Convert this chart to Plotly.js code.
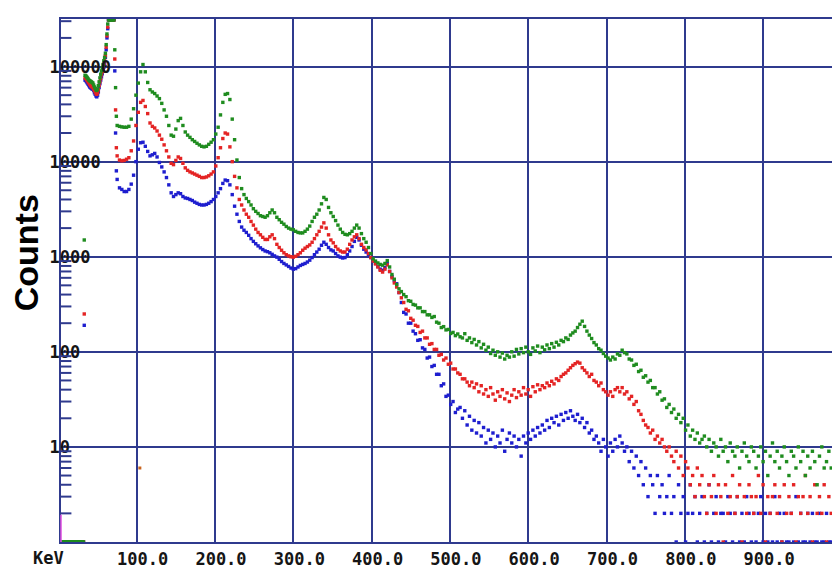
<!DOCTYPE html>
<html>
<head>
<meta charset="utf-8">
<script src="https://cdn.plot.ly/plotly-3.0.1.min.js"></script>
<style>html,body{margin:0;padding:0;background:#fff;}#chart{width:832px;height:572px;}</style>
</head>
<body>
<div id="chart"></div>
<script>
// ---- Energy calibration of the two channel blocks (keV) ----
const lowStartKeV = 3, lowStepKeV = 1;     // channels 3..74 keV
const mainStartKeV = 75, mainStepKeV = 3;  // channels 75..987 keV

// ---- Axis tick labels ----
const xTickVals = [100, 200, 300, 400, 500, 600, 700, 800, 900];
const xTickText = ['100.0', '200.0', '300.0', '400.0', '500.0', '600.0', '700.0', '800.0', '900.0'];
const yTickVals = [1, 10, 100, 1000, 10000, 100000];
const yTickText = ['1', '10', '100', '1000', '10000', '100000'];
const minorMantissas = [2, 3, 4, 5, 6, 7, 8, 9];

// ---- Counts, low-energy block (3..74 keV, 1 keV per channel) ----
const greenLow = [1,1,1,1,1,1,1,1,1,1, 1,1,1,1,1,1,1,1,1,1, 1,1,1,1,1,1,1,1,1,1, 1500,
  81000,80000,78000,76000,74000,72000,71000,70000,69000,68000,
  67000,64000,61000,59000,57000,56000,58000,63000,69000,76000,
  83000,90000,97000,105000,115000,125000,138000,170000,220000,280000,
  310000,310000,310000,310000,310000,310000,310000,310000,
  150000,60000,30000];
const redLow = [1,1,1,1,1,1,1,1,1,1, 1,1,1,1,1,1,1,1,1,1, 1,1,1,1,1,1,1,1,1,1, 250,
  76000,75000,73000,71000,69000,67000,65000,63000,62000,61000,
  60000,58000,56000,54000,52000,51000,53000,57000,63000,69000,
  75000,82000,88000,95000,105000,115000,130000,160000,210000,260000,
  310000,310000,310000,310000,310000,310000,310000,310000,
  120000,35000,14000];
const blueLow = [1,1,1,1,1,1,1,1,1,1, 1,1,1,1,1,1,1,1,1,1, 1,1,1,1,1,1,1,1,1,1, 190,
  72000,71000,69000,67000,65000,63000,61000,60000,59000,58000,
  58000,56000,53000,51000,49000,48000,50000,54000,60000,66000,
  72000,78000,84000,90000,98000,108000,125000,150000,200000,250000,
  310000,310000,310000,310000,310000,310000,310000,310000,
  90000,20000,8000];

// ---- Counts, main block (75..987 keV, 3 keV per channel) ----
const greenMain = [
  24000,23500,23200,23000,23000,23500,28000,36000,50000,67000,
  88000,105000,88000,68000,57000,54000,52000,49000,46000,41000,
  35000,30000,24000,19000,18500,22000,27000,28500,24000,20500,
  19000,18000,17000,16300,15600,15000,14500,14300,14500,15200,
  16000,17000,19500,23000,31000,42000,51000,52000,45000,28000,
  17000,10400,6800,5200,4500,4100,3800,3500,3200,3000,
  2850,2700,2650,2600,2700,2900,3100,2900,2600,2450,
  2300,2200,2080,2000,1950,1920,1850,1800,1780,1780,
  1850,1950,2100,2350,2600,2800,3100,3600,4200,4000,
  3300,2900,2650,2400,2150,1950,1800,1720,1700,1750,
  1850,2000,2150,2000,1750,1550,1420,1250,1080,950,
  900,860,830,815,850,910,780,650,580,510,
  460,430,400,380,345,340,315,310,290,290,
  265,265,245,245,230,235,205,200,180,184,
  170,172,156,160,148,154,144,140,155,132,
  140,125,135,118,128,110,120,104,112,96,
  104,92,100,88,97,84,92,88,100,90,
  106,95,108,98,112,100,94,110,102,115,
  98,112,105,118,108,122,112,126,118,132,
  128,140,135,150,158,165,180,195,210,185,
  165,150,138,125,118,108,104,96,90,86,
  82,88,84,95,92,104,98,95,84,82,
  72,74,62,64,54,56,48,50,42,42,
  36,38,31,32,26,28,23,25,20,22,
  18,20,15,17,13,15,12,14,11,12,
  13,10,12,9,11,10,8,12,9,10,
  7,11,9,8,10,6,9,11,8,7,
  10,9,6,8,10,7,9,5,8,11,
  7,9,6,8,10,7,5,9,8,6,
  10,7,9,5,8,6,9,7,4,8,
  10,6,7,9,6];
const redMain = [
  11500,10400,10200,10300,10600,11000,13000,16500,24000,33000,
  42000,44000,38000,32000,25500,23500,22600,21000,19000,17200,
  15000,13000,11200,9600,9300,10300,11200,10800,9600,8600,
  8100,7800,7600,7400,7200,7000,6800,6800,6900,7100,
  7400,7800,9000,11000,14000,17500,20000,19500,14300,10000,
  7000,5300,4000,3500,3100,2800,2600,2350,2150,1950,
  1800,1700,1600,1520,1520,1620,1700,1550,1350,1250,
  1170,1100,1050,1020,1000,990,1010,1050,1100,1170,
  1230,1280,1330,1420,1550,1700,1850,2050,2270,2000,
  1700,1500,1400,1280,1200,1150,1120,1120,1200,1350,
  1500,1620,1700,1550,1350,1250,1180,1080,980,900,
  840,780,720,690,740,820,700,600,530,480,
  420,370,330,280,270,225,215,190,185,160,
  165,140,140,120,122,106,106,92,94,82,
  86,74,76,66,66,60,58,52,52,48,
  44,48,42,46,38,44,36,40,34,42,
  36,31,38,34,40,32,37,30,35,40,
  33,38,35,42,36,40,34,43,38,45,
  40,44,42,47,44,49,46,52,50,55,
  58,60,64,68,72,75,78,76,68,64,
  60,55,58,50,48,44,47,40,38,35,
  38,34,40,42,38,42,36,38,32,34,
  28,30,24,22,19,17,16,14,15,12,
  13,11,12,10,9,10,8,7,9,6,
  8,5,7,6,4,5,3,6,4,5,
  3,2,4,3,5,2,4,3,1,4,
  2,3,5,2,3,4,1,3,2,4,
  3,2,3,5,2,4,1,3,2,3,
  4,2,3,1,4,2,3,2,4,1,
  3,2,3,5,2,3,1,4,2,3,
  2,4,1,3,2];
const blueMain = [
  6500,5300,5100,4850,4850,5100,5800,7200,10000,13500,
  15800,16000,14500,12800,11500,11800,12200,11200,9800,8800,
  7800,6800,5700,4700,4300,4500,4700,4600,4300,4150,
  4100,4000,3900,3750,3650,3550,3500,3500,3550,3650,
  3800,4000,4300,4700,5200,5900,6400,6300,5700,4500,
  3400,2800,2350,2050,1900,1800,1680,1550,1450,1370,
  1300,1240,1190,1150,1130,1100,1060,1020,990,940,
  890,850,820,790,760,740,750,780,810,830,
  850,880,920,980,1050,1120,1200,1320,1420,1350,
  1250,1180,1150,1080,1020,990,970,980,1050,1150,
  1280,1450,1600,1500,1320,1200,1120,1050,980,900,
  850,790,740,720,770,850,700,620,560,520,
  420,330,260,250,200,200,165,155,132,134,
  110,106,86,88,70,72,58,58,44,46,
  34,35,28,30,23,25,26,20,24,17,
  21,15,19,14,18,13,16,11,15,12,
  14,10,13,11,15,9,12,14,11,13,
  10,12,8,13,11,14,12,15,13,16,
  14,17,15,19,16,20,18,21,17,22,
  19,23,20,24,21,19,22,18,20,16,
  18,14,15,12,13,11,9,12,10,8,
  11,9,12,10,13,11,9,10,7,9,
  6,8,5,7,4,6,3,5,4,2,
  5,3,4,2,3,5,2,3,1,4,
  2,3,1,2,4,2,3,1,2,3,
  1,2,4,1,2,3,1,2,2,1,
  3,2,1,2,3,1,2,1,3,2,
  1,2,1,2,3,1,2,1,2,1,
  3,1,2,1,2,1,1,2,1,3,
  1,2,1,1,2,1,2,1,1,2,
  1,1,2,1,1];

// stray single reading
const strayKeV = [104];
const strayCounts = [6];

function channelEnergies(start, step, n) {
  const out = [];
  for (let i = 0; i < n; i++) out.push(start + i * step);
  return out;
}
function series(low, main) {
  const x = channelEnergies(lowStartKeV, lowStepKeV, low.length)
    .concat(channelEnergies(mainStartKeV, mainStepKeV, main.length));
  return { x: x, y: low.concat(main) };
}

const gridColor = '#2f3a8e';
const yLogRange = [0, 5.5];
const monoFont = { family: 'DejaVu Sans Mono, Liberation Mono, monospace', size: 17, color: '#151515', weight: 'bold' };

// short inside tick marks at 2..9 of every decade on the count axis (paper coords from the log range)
const minorTickShapes = [];
yTickVals.forEach(function (d) {
  minorMantissas.forEach(function (m) {
    const f = (Math.log10(d * m) - yLogRange[0]) / (yLogRange[1] - yLogRange[0]);
    if (f <= 1) {
      minorTickShapes.push({ type: 'line', xref: 'paper', yref: 'paper', x0: 0, x1: 0.0135, y0: f, y1: f,
        line: { color: gridColor, width: 2 }, layer: 'above' });
    }
  });
});
// thin magenta stub on the count axis next to the baseline
minorTickShapes.push({ type: 'line', xref: 'paper', yref: 'paper', x0: 0, x1: 0, y0: 0, y1: 0.052,
  line: { color: '#e04ee0', width: 1.5 }, layer: 'above' });

function trace(s, color) {
  return {
    type: 'scatter', mode: 'markers', x: s.x, y: s.y, hoverinfo: 'skip',
    marker: { symbol: 'square', size: 3.4, color: color, line: { width: 0 } }
  };
}

const data = [
  trace(series(blueLow, blueMain), '#1e1ecf'),
  trace(series(redLow, redMain), '#e42424'),
  trace(series(greenLow, greenMain), '#1f8c1f'),
  { type: 'scatter', mode: 'markers', x: strayKeV, y: strayCounts, hoverinfo: 'skip',
    marker: { symbol: 'square', size: 3, color: '#c8641e' } }
];

const layout = {
  width: 832, height: 572,
  margin: { l: 61, r: 0, t: 19, b: 30, pad: 0 },
  paper_bgcolor: '#ffffff', plot_bgcolor: '#ffffff',
  showlegend: false,
  xaxis: {
    range: [3.3, 988], tickmode: 'array', tickvals: xTickVals, ticktext: xTickText,
    showgrid: true, gridcolor: gridColor, gridwidth: 2, zeroline: false,
    showline: true, linecolor: gridColor, linewidth: 2, mirror: true,
    ticks: '', tickfont: monoFont, ticklabelshift: 6, ticklabelstandoff: 1
  },
  yaxis: {
    type: 'log', range: yLogRange, tickmode: 'array', tickvals: yTickVals, ticktext: yTickText,
    showgrid: true, gridcolor: gridColor, gridwidth: 2, zeroline: false,
    showline: true, linecolor: gridColor, linewidth: 2,
    ticks: '', tickfont: monoFont,
    ticklabelposition: 'inside', ticklabelstandoff: -11
  },
  shapes: minorTickShapes,
  annotations: [
    { text: 'Counts', xref: 'paper', yref: 'paper', x: -0.045, y: 0.5526, xanchor: 'center', yanchor: 'middle',
      textangle: -90, showarrow: false, font: { family: 'Liberation Sans, Arial, sans-serif', size: 34, color: '#000', weight: 'bold' } },
    { text: 'KeV', xref: 'paper', yref: 'paper', x: -0.0156, y: -0.0306, xanchor: 'center', yanchor: 'middle',
      showarrow: false, font: monoFont }
  ]
};

Plotly.newPlot('chart', data, layout, { displayModeBar: false, staticPlot: true });
</script>
</body>
</html>
